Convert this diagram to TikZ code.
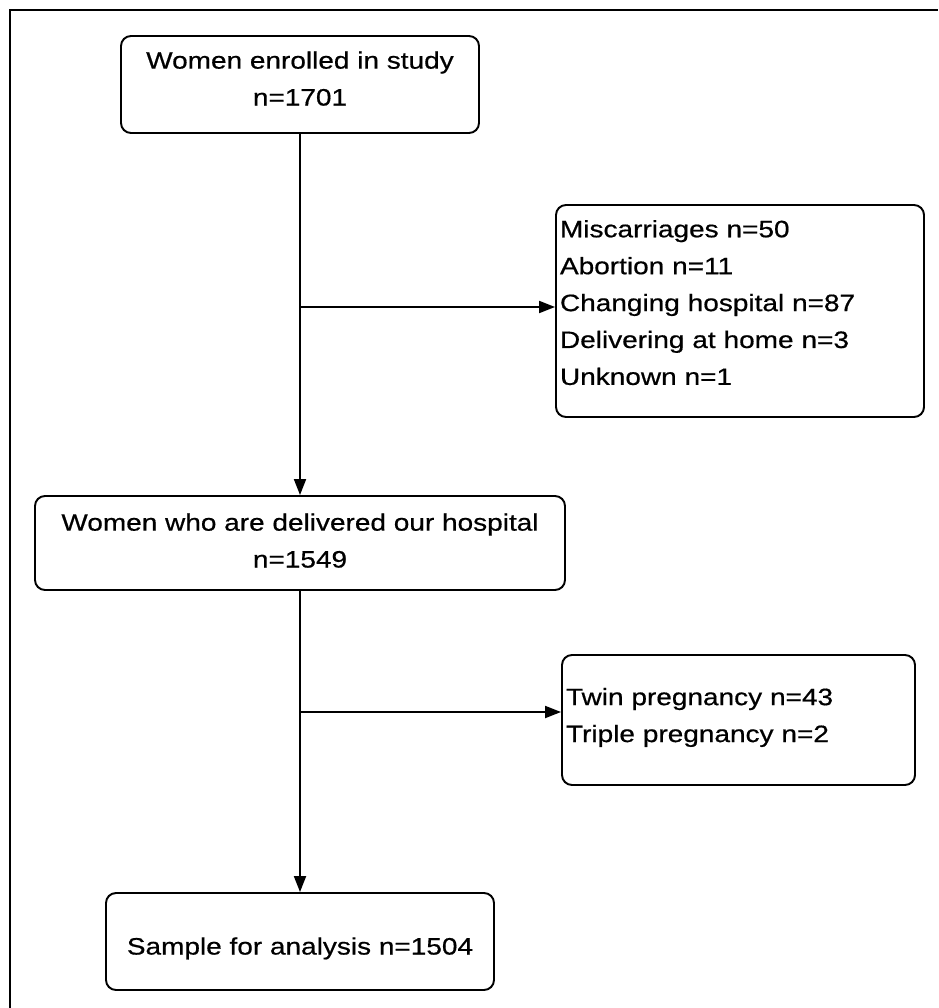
\documentclass[tikz,border=0pt]{standalone}
\usepackage{fontspec}
\setmainfont{Liberation Sans}[FakeStretch=1.18, FakeBold=0.6]
\usetikzlibrary{arrows.meta}

\begin{document}
\begin{tikzpicture}
		\tikzstyle{Stage} = [rectangle, rounded corners=0.2cm, align=center, draw=black, line width=1.1pt, font=\fontsize{13.5}{21}\selectfont]
		\tikzstyle{Excluded} = [rectangle, rounded corners=0.2cm, align=left, inner xsep=0.08cm, draw=black, line width=1.1pt, font=\fontsize{13.5}{21}\selectfont]
		\tikzstyle{arrow} = [line width=1.1pt, -{Triangle[length=0.32cm, width=0.24cm]}]
		
		\useasboundingbox (0,0) rectangle (18.76,-20.16);
		\draw [line width=0.8pt, black] (0.2,-20.16) -- (0.2,-0.2) -- (18.76,-0.2);
		\node (enrolled) [Stage, minimum width=7.16cm, minimum height=1.94cm] at (6,-1.69) {Women enrolled in study\\n=1701\rule[-0.24cm]{0pt}{0pt}};
		\node (lost) [Excluded, text width=7.2cm, minimum height=4.24cm] at (14.8,-6.22) {Miscarriages n=50\\Abortion n=11\\Changing hospital n=87\\Delivering at home n=3\\Unknown n=1\rule[-0.34cm]{0pt}{0pt}};
		\node (delivered) [Stage, minimum width=10.6cm, minimum height=1.88cm] at (6,-10.86) {Women who are delivered our hospital\\n=1549\rule[-0.1cm]{0pt}{0pt}};
		\node (multiple) [Excluded, text width=6.9cm, minimum height=2.6cm] at (14.77,-14.4) {Twin pregnancy n=43\\Triple pregnancy n=2\rule[-0.2cm]{0pt}{0pt}};
		\node (sample) [Stage, minimum width=7.76cm, minimum height=1.94cm] at (6,-18.83) {\rule{0pt}{0.62cm}Sample for analysis n=1504};
		\coordinate (split1) at (6,-6.14);
		\coordinate (split2) at (6,-14.24);
		\draw [arrow] (enrolled) -- (delivered);
		\draw [arrow] (split1) -- (split1 -| lost.west);
		\draw [arrow] (delivered) -- (sample);
		\draw [arrow] (split2) -- (split2 -| multiple.west);
		\end{tikzpicture}
\end{document}
